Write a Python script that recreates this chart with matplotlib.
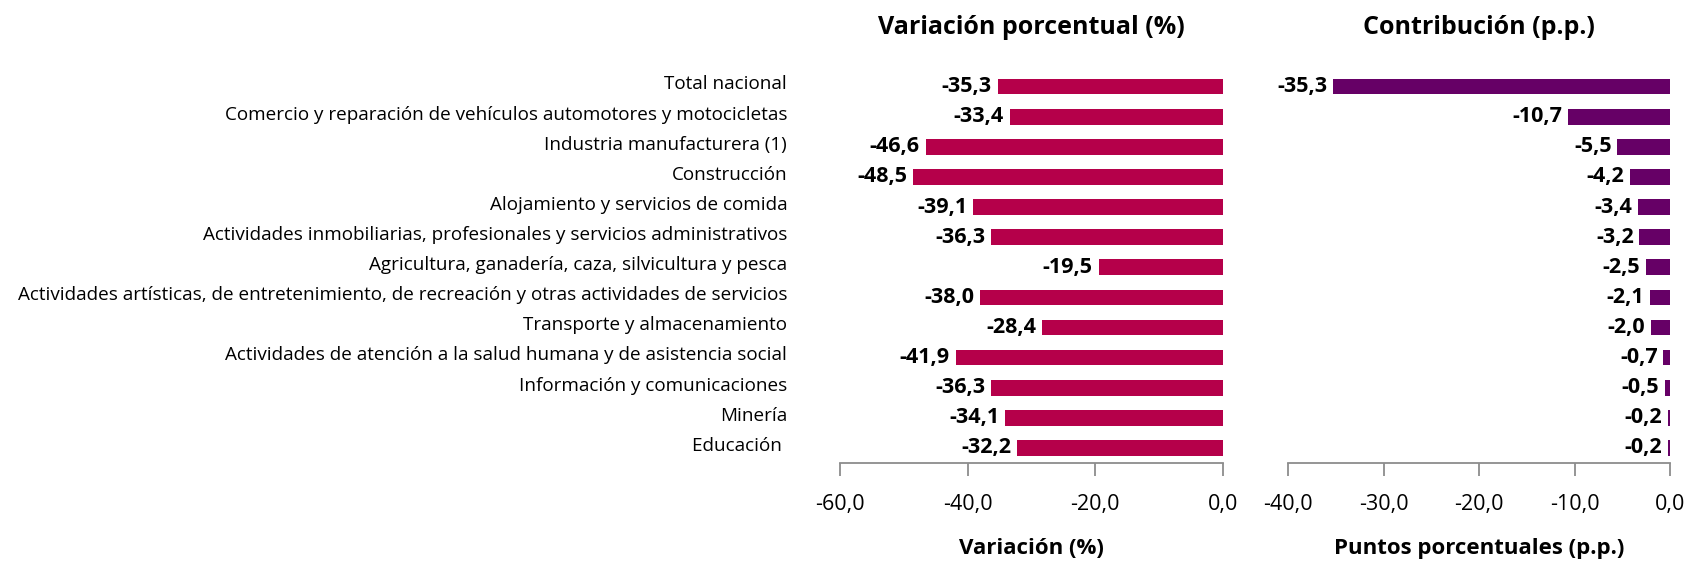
import numpy as np
import matplotlib
matplotlib.use('Agg')
import matplotlib.pyplot as plt
import matplotlib.transforms as mtransforms

plt.rcParams['font.family'] = ['Open Sans', 'DejaVu Sans']

# ------------------------------------------------------------------------- #
sectores = [
    "Total nacional",
    "Comercio y reparación de vehículos automotores y motocicletas",
    "Industria manufacturera (1)",
    "Construcción",
    "Alojamiento y servicios de comida",
    "Actividades inmobiliarias, profesionales y servicios administrativos",
    "Agricultura, ganadería, caza, silvicultura y pesca",
    "Actividades artísticas, de entretenimiento, de recreación y otras actividades de servicios",
    "Transporte y almacenamiento",
    "Actividades de atención a la salud humana y de asistencia social",
    "Información y comunicaciones",
    "Minería",
    "Educación ",
]
variacion = [-35.3, -33.4, -46.6, -48.5, -39.1, -36.3, -19.5, -38.0, -28.4,
             -41.9, -36.3, -34.1, -32.2]
contribucion = [-35.3, -10.7, -5.5, -4.2, -3.4, -3.2, -2.5, -2.1, -2.0,
                -0.7, -0.5, -0.2, -0.2]

col_var = '#B5004A'
col_con = '#660066'
gris = '#8C8C8C'

W, H = 1688, 565
fig = plt.figure(figsize=(W / 100, H / 100), dpi=100)

# axes placed in pixel coords
def px_axes(x0, x1, y0, y1):
    return fig.add_axes([x0 / W, 1 - y1 / H, (x1 - x0) / W, (y1 - y0) / H])

ax1 = px_axes(840, 1223, 71.5, 463)
ax2 = px_axes(1288, 1670, 71.5, 463)

y = np.arange(len(sectores))

def fmt(v):
    return ('%.1f' % v).replace('.', ',')

def estilo(ax, xmin, ticks, xlabel, titulo):
    ax.set_xlim(xmin, 0)
    ax.set_ylim(len(sectores) - 0.5, -0.5)
    for s in ['top', 'right', 'left']:
        ax.spines[s].set_visible(False)
    ax.spines['bottom'].set_color(gris)
    ax.spines['bottom'].set_linewidth(1.3)
    ax.set_xticks(ticks)
    ax.set_xticklabels([fmt(t) for t in ticks], fontsize=15.5)
    ax.tick_params(axis='x', direction='out', length=9, width=1.3, color=gris, pad=13)
    ax.set_xlabel(xlabel, fontsize=16, fontweight='bold', labelpad=17)
    ax.set_title(titulo, fontsize=18, fontweight='bold', pad=27)

ax1.barh(y, variacion, height=0.52, color=col_var)
for i, v in enumerate(variacion):
    ax1.text(v - 0.9, i, fmt(v), ha='right', va='center', fontsize=15.5, fontweight='bold')
estilo(ax1, -60, [-60, -40, -20, 0], 'Variación (%)', 'Variación porcentual (%)')
ax1.set_yticks(y)
ax1.set_yticklabels(sectores, fontsize=13.6)
ax1.tick_params(axis='y', length=0, pad=38)
desplaza = mtransforms.ScaledTranslation(0, 3 / 72, fig.dpi_scale_trans)
for lbl in ax1.get_yticklabels():
    lbl.set_transform(lbl.get_transform() + desplaza)

ax2.barh(y, contribucion, height=0.52, color=col_con)
for i, v in enumerate(contribucion):
    ax2.text(v - 0.6, i, fmt(v), ha='right', va='center', fontsize=15.5, fontweight='bold')
estilo(ax2, -40, [-40, -30, -20, -10, 0], 'Puntos porcentuales (p.p.)', 'Contribución (p.p.)')
ax2.set_yticks([])

fig.savefig('out.png', dpi=100)
